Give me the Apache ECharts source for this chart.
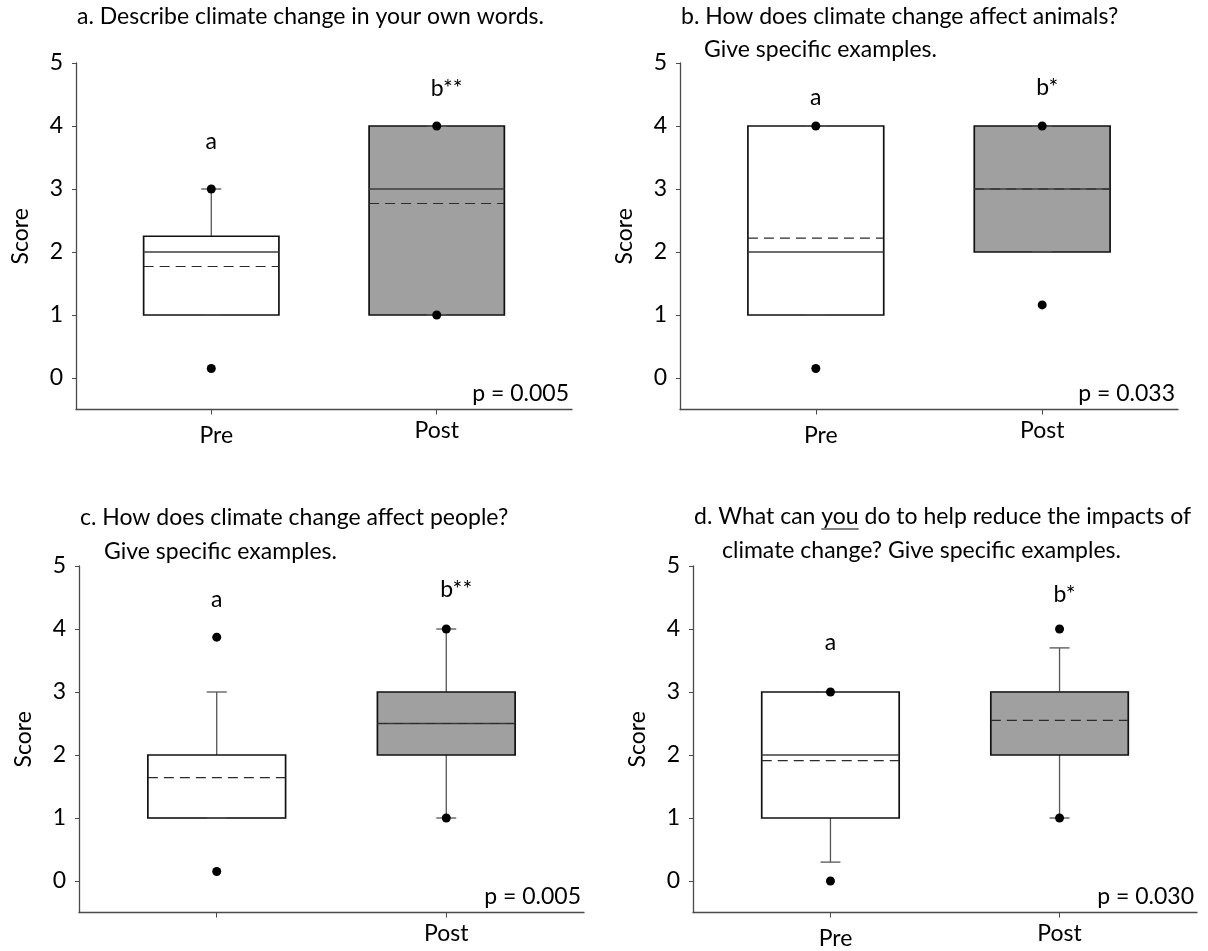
<!DOCTYPE html>
<html>
<head>
<meta charset="utf-8">
<script src="https://cdn.jsdelivr.net/npm/echarts@6/dist/echarts.min.js"></script>
<style>
  html, body { margin: 0; padding: 0; background: #ffffff; }
  #chart { width: 1208px; height: 951px; }
</style>
</head>
<body>
<div id="chart"></div>
<script>
// ---- Data: survey scores before (Pre) and after (Post), one entry per question ----
const groupNames = ['Pre', 'Post'];
const groupX = [3, 8];                       // x positions of the two groups on each panel
const yTickValues = [0, 1, 2, 3, 4, 5];

const q1Values      = [[1, 1],    [1, 2],    [1, 2],    [1, 2]];
const q3Values      = [[2.25, 4], [4, 4],    [2, 3],    [3, 3]];
const medianValues  = [[2, 3],    [2, 3],    [1, 2.5],  [2, 3]];
const meanValues    = [[1.77, 2.77], [2.22, 3], [1.64, 2.5], [1.91, 2.55]];
const whiskerLow    = [[1, 1],    [1, 2],    [1, 1],    [0.3, 1]];
const whiskerHigh   = [[3, 4],    [4, 4],    [3, 4],    [3, 3.7]];
const pointValues   = [
  [[3, 0.15], [4, 1]],
  [[4, 0.15], [4, 1.16]],
  [[3.87, 0.15], [4, 1]],
  [[3, 0], [4, 1]]
];
const groupLetters  = [['a', 'b**'], ['a', 'b*'], ['a', 'b**'], ['a', 'b*']];
const pValues       = ['0.005', '0.033', '0.005', '0.030'];
const shownXLabels  = [[3, 8], [3, 8], [8], [3, 8]];

const titleLines = [
  ['a. Describe climate change in your own words.'],
  ['b. How does climate change affect animals?', 'Give specific examples.'],
  ['c. How does climate change affect people?', 'Give specific examples.'],
  ['d. What can you do to help reduce the impacts of', 'climate change? Give specific examples.']
];

// ---- Layout ----
const FONT = 'Lato';
const FS = 23;
const grids = [
  { left: 76,  top: 63,  width: 496, height: 346.5 },
  { left: 680, top: 63,  width: 498, height: 346.5 },
  { left: 79,  top: 566, width: 505, height: 346.5 },
  { left: 693, top: 566, width: 504, height: 346.5 }
];
const titlePos = [
  [[77, 17]],
  [[681, 17], [704, 50]],
  [[80, 518], [104, 552]],
  [[694, 517], [722, 551]]
];
const letterY = [[3.75, 4.6], [4.45, 4.61], [4.46, 4.62], [3.79, 4.54]];
const letterShift = { 'a': 0, 'b*': 5, 'b**': 10 };
const boxFill = ['#ffffff', '#a0a0a0'];

const chart = echarts.init(document.getElementById('chart'));

function boxItem(params, api) {
  const x = api.value(0);
  const g = api.value(7);
  const cx = api.coord([x, 0])[0];
  const hw = api.size([1.5, 0])[0];
  const Y = v => api.coord([x, v])[1];
  const q1 = Y(api.value(1)), med = Y(api.value(2)), q3 = Y(api.value(3));
  const mean = Y(api.value(4)), lo = Y(api.value(5)), hi = Y(api.value(6));
  const capW = 10;
  const whisk = { stroke: '#555555', lineWidth: 1.3 };
  return {
    type: 'group',
    children: [
      { type: 'line', shape: { x1: cx, y1: q3, x2: cx, y2: hi }, style: whisk },
      { type: 'line', shape: { x1: cx, y1: q1, x2: cx, y2: lo }, style: whisk },
      { type: 'rect', shape: { x: cx - hw, y: q3, width: 2 * hw, height: q1 - q3 },
        style: { fill: boxFill[g], stroke: '#111111', lineWidth: 1.7 } },
      { type: 'line', shape: { x1: cx - hw, y1: med, x2: cx + hw, y2: med },
        style: { stroke: '#3c3c3c', lineWidth: 1.6 } },
      { type: 'line', shape: { x1: cx - hw, y1: mean, x2: cx + hw, y2: mean },
        style: { stroke: '#2a2a2a', lineWidth: 1.2, lineDash: [10, 6] } },
      { type: 'line', shape: { x1: cx - capW, y1: hi, x2: cx + capW, y2: hi }, style: whisk },
      { type: 'line', shape: { x1: cx - capW, y1: lo, x2: cx + capW, y2: lo }, style: whisk }
    ]
  };
}

const xAxes = [], yAxes = [], series = [], graphics = [];

grids.forEach((grid, i) => {
  xAxes.push({
    gridIndex: i, type: 'value', min: 0, max: 11,
    axisLine: { show: true, onZero: false, lineStyle: { color: '#4a4a4a', width: 1.3 } },
    axisTick: { show: true, customValues: groupX, length: 5, lineStyle: { color: '#4a4a4a' } },
    axisLabel: {
      show: true, customValues: shownXLabels[i], margin: 10,
      formatter: v => v === groupX[0] ? '{pre|' + groupNames[0] + '}' : '{post|' + groupNames[1] + '}',
      rich: {
        pre:  { fontFamily: FONT, fontSize: FS, color: '#000', padding: [5, 0, 0, 10] },
        post: { fontFamily: FONT, fontSize: FS, color: '#000', padding: [0, 0, 0, 0] }
      }
    },
    splitLine: { show: false }
  });
  yAxes.push({
    gridIndex: i, type: 'value', min: -0.5, max: 5,
    name: 'Score', nameLocation: 'middle', nameGap: 44,
    nameTextStyle: { fontFamily: FONT, fontSize: FS, color: '#000' },
    axisLine: { show: true, onZero: false, lineStyle: { color: '#4a4a4a', width: 1.3 } },
    axisTick: { show: true, customValues: yTickValues, length: 4, lineStyle: { color: '#4a4a4a' } },
    axisLabel: { show: true, customValues: yTickValues, margin: 13,
      fontFamily: FONT, fontSize: FS, color: '#000' },
    splitLine: { show: false }
  });

  const boxData = groupX.map((x, g) => [
    x, q1Values[i][g], medianValues[i][g], q3Values[i][g], meanValues[i][g],
    whiskerLow[i][g], whiskerHigh[i][g], g
  ]);
  series.push({
    type: 'custom', xAxisIndex: i, yAxisIndex: i, z: 2,
    renderItem: boxItem, data: boxData, silent: true
  });

  const dots = [];
  groupX.forEach((x, g) => pointValues[i][g].forEach(v => dots.push([x, v])));
  series.push({
    type: 'scatter', xAxisIndex: i, yAxisIndex: i, z: 3,
    symbol: 'circle', symbolSize: 9, itemStyle: { color: '#000', opacity: 1 },
    data: dots, silent: true
  });

  const notes = groupX.map((x, g) => [x, letterY[i][g], groupLetters[i][g], 'center']);
  notes.push([11, -0.25, 'p = ' + pValues[i], 'right']);
  series.push({
    type: 'custom', xAxisIndex: i, yAxisIndex: i, z: 4, silent: true,
    data: notes.map(n => [n[0], n[1]]),
    renderItem: (params, api) => {
      const n = notes[params.dataIndex];
      const p = api.coord([api.value(0), api.value(1)]);
      const dx = n[3] === 'right' ? -3 : (letterShift[n[2]] || 0);
      return {
        type: 'text', x: p[0] + dx, y: p[1],
        style: { text: n[2], fontFamily: FONT, fontSize: FS, fill: '#000',
          align: n[3], verticalAlign: 'middle' }
      };
    }
  });

  titleLines[i].forEach((t, k) => {
    graphics.push({
      type: 'text', x: titlePos[i][k][0], y: titlePos[i][k][1],
      style: { text: t, fontFamily: FONT, fontSize: FS, fill: '#000', verticalAlign: 'middle' }
    });
  });
});

// underline beneath "you" in question d
(function () {
  const ctx = document.createElement('canvas').getContext('2d');
  ctx.font = FS + 'px ' + FONT;
  const line = titleLines[3][0];
  const start = line.indexOf('you');
  const x0 = titlePos[3][0][0] + ctx.measureText(line.slice(0, start)).width;
  const w = ctx.measureText('you').width;
  const y = titlePos[3][0][1] + 12;
  graphics.push({ type: 'line', shape: { x1: x0, y1: y, x2: x0 + w, y2: y },
    style: { stroke: '#000', lineWidth: 1.2 } });
})();

chart.setOption({
  backgroundColor: '#ffffff',
  animation: false,
  grid: grids,
  xAxis: xAxes,
  yAxis: yAxes,
  series: series,
  graphic: graphics
});
</script>
</body>
</html>
